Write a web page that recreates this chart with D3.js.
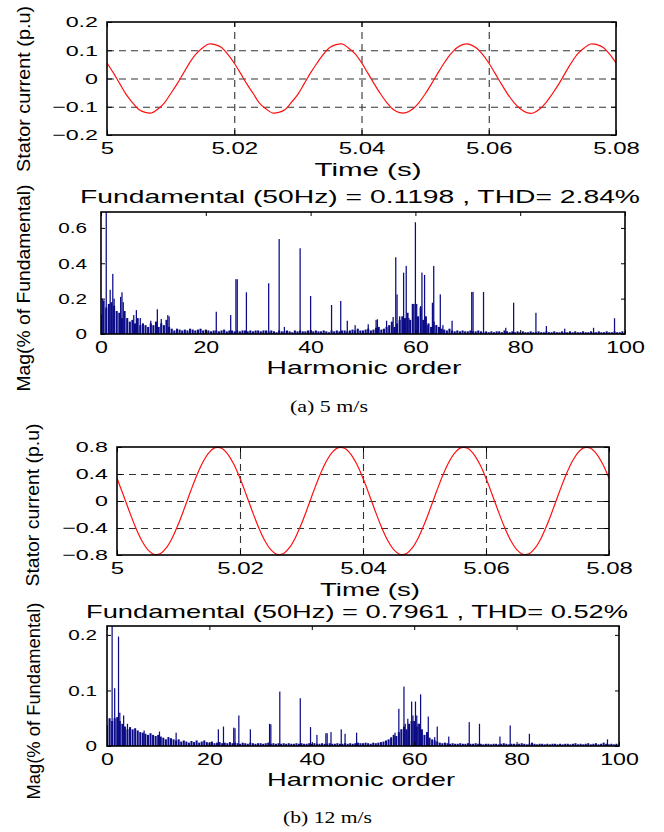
<!DOCTYPE html>
<html><head><meta charset="utf-8">
<script src="https://cdn.jsdelivr.net/npm/d3@7"></script>
<style>
body{margin:0;background:#fff}
svg{display:block}
text{font-family:"Liberation Sans",Arial,Helvetica,sans-serif;fill:#000}
</style>
</head><body>
<svg id="c" width="664" height="832"></svg>
<script>
// ---------------- DATA ----------------
const timeTicks = [5, 5.02, 5.04, 5.06, 5.08];
const timeTickLabels = ["5", "5.02", "5.04", "5.06", "5.08"];
const sampleStart = 5, sampleStep = 0.001; // s

// Stator current (p.u), case (a) 5 m/s, one sample per ms
const currentA = [
  0.055,0.020,-0.018,-0.056,-0.085,-0.110,-0.120,-0.122,-0.108,-0.087,-0.054,-0.020,0.018,0.056,0.087,0.108,0.122,0.120,0.110,0.085,
  0.054,0.018,-0.020,-0.054,-0.088,-0.108,-0.122,-0.120,-0.110,-0.084,-0.056,-0.018,0.020,0.054,0.085,0.110,0.120,0.122,0.107,0.087,
  0.056,0.019,-0.019,-0.055,-0.086,-0.110,-0.121,-0.121,-0.109,-0.086,-0.055,-0.019,0.019,0.055,0.086,0.109,0.121,0.121,0.109,0.086,
  0.055,0.018,-0.020,-0.056,-0.086,-0.108,-0.121,-0.122,-0.108,-0.085,-0.054,-0.020,0.019,0.056,0.088,0.108,0.122,0.120,0.110,0.086,
  0.055
];
// Stator current (p.u), case (b) 12 m/s
const currentB = [
  0.336,0.097,-0.152,-0.386,-0.582,-0.721,-0.790,-0.782,-0.696,-0.543,-0.336,-0.097,0.152,0.386,0.582,0.721,0.790,0.782,0.696,0.543,
  0.336,0.097,-0.152,-0.386,-0.582,-0.721,-0.790,-0.782,-0.696,-0.543,-0.336,-0.097,0.152,0.386,0.582,0.721,0.790,0.782,0.696,0.543,
  0.336,0.097,-0.152,-0.386,-0.582,-0.721,-0.790,-0.782,-0.696,-0.543,-0.336,-0.097,0.152,0.386,0.582,0.721,0.790,0.782,0.696,0.543,
  0.336,0.097,-0.152,-0.386,-0.582,-0.721,-0.790,-0.782,-0.696,-0.543,-0.336,-0.097,0.152,0.386,0.582,0.721,0.790,0.782,0.696,0.543,
  0.336
];
const yTicksA = [-0.2, -0.1, 0, 0.1, 0.2];
const yTicksB = [-0.8, -0.4, 0, 0.4, 0.8];

const harmTicks = [0, 20, 40, 60, 80, 100];
const floorStep = 0.5; // harmonic orders 0..100
// spectrum background (Mag % of fundamental), case (a)
const floorA = [
  0.11,0.19,0.15,0.17,0.18,0.16,0.13,0.12,0.09,0.13,
  0.09,0.07,0.08,0.06,0.09,0.05,0.06,0.05,0.04,0.06,
  0.05,0.07,0.04,0.06,0.05,0.08,0.04,0.03,0.02,0.03,
  0.025,0.02,0.025,0.02,0.03,0.025,0.02,0.025,0.03,0.02,
  0.025,0.02,0.015,0.02,0.02,0.015,0.02,0.025,0.015,0.02,
  0.02,0.015,0.02,0.015,0.02,0.02,0.015,0.02,0.015,0.02,
  0.02,0.015,0.02,0.02,0.015,0.02,0.015,0.01,0.02,0.015,
  0.015,0.02,0.015,0.01,0.02,0.015,0.02,0.015,0.015,0.02,
  0.02,0.015,0.02,0.015,0.015,0.02,0.015,0.01,0.02,0.015,
  0.02,0.015,0.02,0.02,0.015,0.02,0.025,0.02,0.03,0.02,
  0.02,0.025,0.03,0.02,0.025,0.035,0.04,0.025,0.03,0.04,
  0.05,0.07,0.04,0.06,0.08,0.1,0.09,0.12,0.08,0.17,
  0.17,0.1,0.15,0.08,0.1,0.06,0.04,0.07,0.05,0.04,
  0.03,0.025,0.02,0.03,0.02,0.015,0.02,0.015,0.02,0.015,
  0.015,0.02,0.015,0.015,0.02,0.015,0.01,0.015,0.01,0.015,
  0.01,0.015,0.015,0.01,0.02,0.015,0.01,0.015,0.01,0.015,
  0.01,0.015,0.01,0.01,0.015,0.01,0.01,0.015,0.01,0.01,
  0.015,0.01,0.01,0.015,0.01,0.01,0.015,0.01,0.01,0.015,
  0.01,0.015,0.01,0.01,0.015,0.01,0.01,0.015,0.01,0.01,
  0.015,0.01,0.01,0.015,0.01,0.01,0.015,0.01,0.01,0.015,
  0.01
];
// distinct spectral lines [harmonic order, Mag], case (a)
const spikesA = [
  [1,100],[0.25,0.2],[1.75,0.25],[2.25,0.34],[2.5,0.2],[3.75,0.21],[4,0.236],[4.25,0.18],
  [6.25,0.107],[6.75,0.135],[7.5,0.09],[9.5,0.075],[10.75,0.14],[11.5,0.085],[12.75,0.107],[13,0.1],
  [22,0.126],[24.75,0.107],[25.75,0.31],[26,0.31],[27.75,0.236],[32,0.287],[34,0.537],[35,0.04],
  [38,0.485],[40,0.215],[44,0.164],[45.75,0.187],[47,0.075],[48.5,0.05],[51,0.055],[52.5,0.08],
  [52.75,0.083],[54.5,0.075],[55.75,0.096],[56.25,0.434],[56.5,0.224],[57,0.1],[57.75,0.347],[58.25,0.385],
  [58.75,0.09],[59.5,0.17],[60,0.632],[60.25,0.17],[61,0.158],[61.25,0.347],[61.75,0.334],[62.25,0.05],
  [63.25,0.177],[63.5,0.385],[64,0.05],[64.75,0.224],[65.25,0.05],[67,0.075],[70.75,0.238],[71,0.238],
  [73,0.238],[77.25,0.035],[78.75,0.177],[83,0.12],[85,0.045],[88.5,0.03],[94,0.035],[98,0.089]
];
// spectrum background, case (b)
const floorB = [
  0.038,0.05,0.045,0.05,0.052,0.045,0.04,0.035,0.03,0.034,
  0.03,0.032,0.028,0.025,0.024,0.022,0.02,0.023,0.02,0.018,
  0.02,0.017,0.015,0.012,0.016,0.014,0.012,0.01,0.012,0.008,
  0.01,0.008,0.006,0.009,0.007,0.01,0.006,0.008,0.01,0.007,
  0.006,0.008,0.005,0.006,0.007,0.005,0.006,0.005,0.007,0.005,
  0.006,0.005,0.004,0.006,0.005,0.004,0.006,0.005,0.004,0.005,
  0.005,0.004,0.005,0.006,0.004,0.005,0.004,0.005,0.004,0.005,
  0.004,0.005,0.004,0.004,0.005,0.004,0.005,0.004,0.004,0.005,
  0.004,0.005,0.004,0.004,0.005,0.004,0.004,0.005,0.004,0.004,
  0.005,0.004,0.004,0.005,0.004,0.005,0.004,0.005,0.006,0.005,
  0.005,0.006,0.005,0.004,0.006,0.005,0.006,0.007,0.008,0.01,
  0.012,0.015,0.02,0.018,0.025,0.03,0.035,0.03,0.04,0.045,
  0.045,0.035,0.04,0.03,0.02,0.025,0.015,0.012,0.01,0.008,
  0.006,0.005,0.006,0.005,0.004,0.005,0.004,0.004,0.005,0.004,
  0.004,0.005,0.004,0.004,0.005,0.004,0.004,0.003,0.004,0.004,
  0.003,0.004,0.004,0.003,0.004,0.005,0.004,0.003,0.004,0.004,
  0.003,0.004,0.005,0.004,0.003,0.004,0.006,0.004,0.003,0.004,
  0.004,0.003,0.004,0.003,0.004,0.004,0.003,0.004,0.003,0.004,
  0.004,0.003,0.004,0.005,0.003,0.004,0.003,0.004,0.005,0.003,
  0.004,0.005,0.003,0.004,0.006,0.004,0.003,0.004,0.003,0.004,
  0.003
];
const spikesB = [
  [1,100],[0.5,0.048],[1.5,0.104],[2.25,0.197],[2.5,0.06],[3.25,0.055],[4,0.04],[7.25,0.028],
  [10.25,0.026],[13.5,0.024],[21.75,0.03],[22.75,0.035],[24.75,0.033],[25,0.032],[25.75,0.055],[28,0.03],
  [31.75,0.04],[32,0.039],[33.75,0.098],[37.75,0.086],[39.75,0.034],[41,0.02],[42.75,0.023],[43,0.023],
  [43.75,0.025],[45.75,0.03],[46.5,0.022],[48.75,0.024],[55.5,0.016],[56.25,0.024],[57,0.067],[57.5,0.03],
  [58,0.107],[58.25,0.04],[58.75,0.049],[59,0.03],[59.5,0.08],[59.75,0.055],[60.25,0.08],[60.5,0.055],
  [60.75,0.04],[61.25,0.093],[61.5,0.023],[62.75,0.053],[64,0.016],[64.5,0.035],[66.75,0.017],[70.75,0.043],
  [72.75,0.04],[76.75,0.017],[78.75,0.037],[82.5,0.022],[97.75,0.012]
];
const magTicksA = [0, 0.2, 0.4, 0.6];
const magTicksB = [0, 0.1, 0.2];

const titleA = "Fundamental (50Hz) = 0.1198 , THD= 2.84%";
const titleB = "Fundamental (50Hz) = 0.7961 , THD= 0.52%";
const captionA = "(a) 5 m/s";
const captionB = "(b) 12 m/s";

// ---------------- DRAWING ----------------
const svg = d3.select("#c");
const FONT = '"Liberation Sans",Arial,Helvetica,sans-serif';
const BAR = "#0c0c86";

function stretchX(sel, sx){
  sel.each(function(){
    const t = d3.select(this);
    const x = +t.attr("x") || 0, y = +t.attr("y") || 0;
    t.attr("transform", `translate(${x},${y}) scale(${sx},1) translate(${-x},${-y})`);
  });
}
function label(x, y, str, size, len, rot, family){
  const t = svg.append("text")
    .attr("transform", `translate(${x},${y})` + (rot ? " rotate(-90)" : ""))
    .attr("text-anchor", "middle").attr("font-size", size)
    .attr("textLength", len).attr("lengthAdjust", "spacingAndGlyphs")
    .text(str);
  if (family) t.style("font-family", family);
}
function styleAxis(a, size){
  a.attr("font-family", FONT).attr("font-size", size);
  a.select(".domain").remove();
  a.selectAll(".tick line").attr("stroke", "#000").attr("stroke-width", 1);
  a.selectAll(".tick text").attr("fill", "#000");
}
function frame(l, r, t, b){
  svg.append("rect").attr("x", l).attr("y", t).attr("width", r - l).attr("height", b - t)
    .attr("fill", "none").attr("stroke", "#000").attr("stroke-width", 1.6);
}

let clipId = 0;
function sinePanel(o){
  const x = d3.scaleLinear().domain([5, 5.08]).range([o.left, o.right]);
  const y = d3.scaleLinear().domain([o.yTicks[0], o.yTicks[o.yTicks.length-1]]).range([o.bottom, o.top]);
  const H = o.bottom - o.top, W = o.right - o.left;
  // dashed grid
  const gx = svg.append("g").attr("transform", `translate(0,${o.bottom})`)
    .call(d3.axisBottom(x).tickValues(timeTicks.slice(1, -1)).tickSize(-H).tickFormat(""));
  gx.select(".domain").remove();
  gx.selectAll("line").attr("stroke", "#333").attr("stroke-width", 1.1).attr("stroke-dasharray", "7,5");
  const gy = svg.append("g").attr("transform", `translate(${o.left},0)`)
    .call(d3.axisLeft(y).tickValues(o.yTicks.slice(1, -1)).tickSize(-W).tickFormat(""));
  gy.select(".domain").remove();
  gy.selectAll("line").attr("stroke", "#333").attr("stroke-width", 1.1).attr("stroke-dasharray", "7,5");
  // curve
  const id = "clip" + (clipId++);
  svg.append("clipPath").attr("id", id).append("rect")
    .attr("x", o.left).attr("y", o.top - 2).attr("width", W).attr("height", H + 4);
  const line = d3.line().x((d, i) => x(sampleStart + i * sampleStep)).y(d => y(d)).curve(d3.curveCatmullRom);
  svg.append("path").attr("clip-path", `url(#${id})`).attr("d", line(o.values))
    .attr("fill", "none").attr("stroke", "#ff1010").attr("stroke-width", 1.2);
  // axes
  const ab = svg.append("g").attr("transform", `translate(0,${o.bottom})`)
    .call(d3.axisBottom(x).tickValues(timeTicks).tickFormat((d, i) => timeTickLabels[i]).tickSizeInner(-5).tickSizeOuter(0).tickPadding(8));
  styleAxis(ab, 16); stretchX(ab.selectAll(".tick text"), 1.5);
  const al = svg.append("g").attr("transform", `translate(${o.left},0)`)
    .call(d3.axisLeft(y).tickValues(o.yTicks).tickFormat(d3.format("~g")).tickSizeInner(-5).tickSizeOuter(0).tickPadding(9));
  styleAxis(al, 15); stretchX(al.selectAll(".tick text"), 1.55);
  const at = svg.append("g").attr("transform", `translate(0,${o.top})`)
    .call(d3.axisTop(x).tickValues(timeTicks).tickFormat("").tickSizeInner(-5).tickSizeOuter(0));
  styleAxis(at, 10);
  const ar = svg.append("g").attr("transform", `translate(${o.right},0)`)
    .call(d3.axisRight(y).tickValues(o.yTicks).tickFormat("").tickSizeInner(-5).tickSizeOuter(0));
  styleAxis(ar, 10);
  frame(o.left, o.right, o.top, o.bottom);
}

function barPanel(o){
  const x = d3.scaleLinear().domain([0, 100]).range([o.left, o.right]);
  const y = d3.scaleLinear().domain([0, o.yMax]).range([o.bottom, o.top]);
  const W = o.right - o.left, H = o.bottom - o.top;
  const id = "clip" + (clipId++);
  svg.append("clipPath").attr("id", id).append("rect")
    .attr("x", o.left).attr("y", o.top).attr("width", W).attr("height", H);
  const g = svg.append("g").attr("clip-path", `url(#${id})`);
  const wF = x(0.4) - x(0), wS = x(0.24) - x(0);
  g.selectAll("rect.f").data(o.floor).join("rect").attr("class", "f")
    .attr("x", (d, i) => x(i * floorStep) - wF / 2).attr("width", wF)
    .attr("y", d => y(d)).attr("height", d => y(0) - y(d)).attr("fill", BAR);
  g.selectAll("rect.s").data(o.spikes).join("rect").attr("class", "s")
    .attr("x", d => x(d[0]) - wS / 2).attr("width", wS)
    .attr("y", d => y(d[1])).attr("height", d => y(0) - y(d[1])).attr("fill", BAR);
  const ab = svg.append("g").attr("transform", `translate(0,${o.bottom})`)
    .call(d3.axisBottom(x).tickValues(harmTicks).tickFormat(d3.format("d")).tickSizeInner(-4).tickSizeOuter(0).tickPadding(8));
  styleAxis(ab, 16); stretchX(ab.selectAll(".tick text"), 1.45);
  const al = svg.append("g").attr("transform", `translate(${o.left},0)`)
    .call(d3.axisLeft(y).tickValues(o.yTicks).tickFormat(d3.format("~g")).tickSizeInner(-4).tickSizeOuter(0).tickPadding(o.pad));
  styleAxis(al, 15); stretchX(al.selectAll(".tick text"), 1.38);
  const at = svg.append("g").attr("transform", `translate(0,${o.top})`)
    .call(d3.axisTop(x).tickValues(harmTicks).tickFormat("").tickSizeInner(-4).tickSizeOuter(0));
  styleAxis(at, 10);
  const ar = svg.append("g").attr("transform", `translate(${o.right},0)`)
    .call(d3.axisRight(y).tickValues(o.yTicks).tickFormat("").tickSizeInner(-4).tickSizeOuter(0));
  styleAxis(ar, 10);
  frame(o.left, o.right, o.top, o.bottom);
}

// (a)
sinePanel({left:107, right:616, top:22, bottom:135, values:currentA, yTicks:yTicksA});
label(368, 176, "Time (s)", 19, 107);
label(30, 89, "Stator current (p.u)", 19, 166, true);
barPanel({left:101, right:625, top:212, bottom:334, yMax:0.69, yTicks:magTicksA, floor:floorA, spikes:spikesA, pad:14});
label(360, 203, titleA, 18.5, 560);
label(364, 374, "Harmonic order", 19, 195);
label(30, 288, "Mag(% of Fundamental)", 19, 207, true);
label(329, 412, captionA, 16, 78, false, '"Liberation Serif","Times New Roman",serif');

// (b)
sinePanel({left:117, right:609, top:447, bottom:555, values:currentB, yTicks:yTicksB});
label(370, 596, "Time (s)", 19, 100);
label(39, 505, "Stator current (p.u)", 19, 163, true);
barPanel({left:107, right:619, top:626, bottom:746, yMax:0.216, yTicks:magTicksB, floor:floorB, spikes:spikesB, pad:10});
label(357, 618, titleB, 18.5, 542);
label(361, 786, "Harmonic order", 19, 188);
label(40, 701, "Mag(% of Fundamental)", 19, 197, true);
label(327.5, 823, captionB, 16, 89, false, '"Liberation Serif","Times New Roman",serif');
</script>
</body></html>
